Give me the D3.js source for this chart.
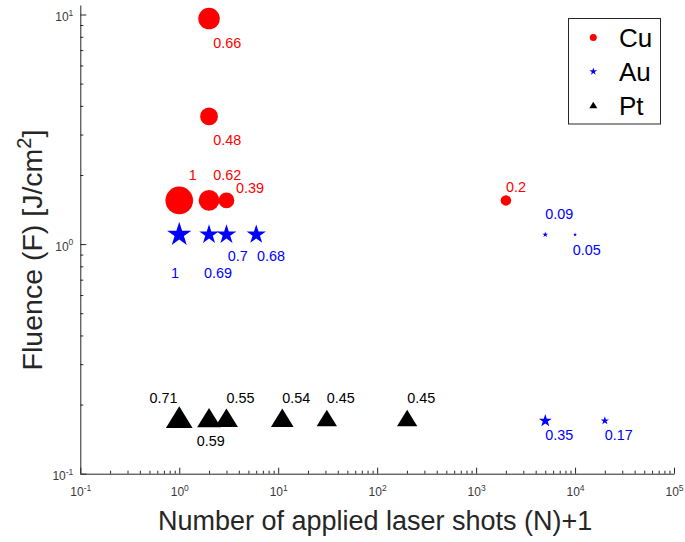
<!DOCTYPE html>
<html>
<head>
<meta charset="utf-8">
<script src="https://cdn.jsdelivr.net/npm/d3@7"></script>
<style>
    body { margin: 0; background: #fff; }
    svg { display: block; }
    text { font-family: "Liberation Sans", Arial, Helvetica, sans-serif; }
</style>
</head>
<body>
<div id="chart"></div>
<script>
// Cu (red circles) - shots (N+1), fluence, ratio shown next to the marker
const cuShots = [2, 2, 1, 2, 3, 2001];
const cuFluence = [9.6, 3.6, 1.55, 1.55, 1.55, 1.55];
const cuRatio = [0.66, 0.48, 1, 0.62, 0.39, 0.2];
const cuLabelX = [2.2, 2.2, 1.25, 2.2, 3.75, 2001];
const cuLabelY = [7.5, 2.83, 2.0, 2.0, 1.75, 1.78];

// Au (blue stars)
const auShots = [1, 2, 3, 6, 5001, 10001, 5001, 20001];
const auFluence = [1.1, 1.1, 1.1, 1.1, 1.1, 1.1, 0.17, 0.17];
const auRatio = [1, 0.69, 0.7, 0.68, 0.09, 0.05, 0.35, 0.17];
const auLabelX = [0.825, 1.78, 3.1, 6.1, 5001, 9500, 5001, 20001];
const auLabelY = [0.75, 0.75, 0.89, 0.89, 1.35, 0.94, 0.147, 0.147];

// Pt (black triangles)
const ptShots = [1, 2, 3, 11, 31, 201];
const ptFluence = [0.17, 0.17, 0.17, 0.17, 0.17, 0.17];
const ptRatio = [0.71, 0.59, 0.55, 0.54, 0.45, 0.45];
const ptLabelX = [0.5, 1.5, 3, 11, 31, 201];
const ptLabelY = [0.213, 0.139, 0.213, 0.213, 0.213, 0.213];

const legendNames = ["Cu", "Au", "Pt"];
const xExponents = [-1, 0, 1, 2, 3, 4, 5];
const yExponents = [-1, 0, 1];

const width = 685, height = 542;
const plotLeft = 80.3, plotRight = 674, plotTop = 5, plotBottom = 473.7;
const axisColor = "#262626";

const svg = d3.select("#chart").append("svg")
    .attr("width", width)
    .attr("height", height)
    .attr("viewBox", `0 0 ${width} ${height}`);

const x = d3.scaleLog().domain([0.1, 1e5]).range([plotLeft, plotRight]);
const y = d3.scaleLog().domain([0.1, 11]).range([plotBottom, plotTop]);

// marker size follows the ratio value
const circleR = d3.scalePow().exponent(0.6).domain([0, 1]).range([0, 13.8]);
const starR = d3.scalePow().exponent(0.6).domain([0, 1]).range([0, 12.8]);
const triR = d3.scalePow().exponent(0.6).domain([0, 1]).range([0, 16.4]);

//axes
const majorX = xExponents.map(e => Math.pow(10, e));
const minorX = d3.range(-1, 5).flatMap(e => d3.range(2, 10).map(k => k * Math.pow(10, e)));
const majorY = yExponents.map(e => Math.pow(10, e));
const minorY = d3.range(-1, 1).flatMap(e => d3.range(2, 10).map(k => k * Math.pow(10, e)));

function superLabels(g) {
    g.selectAll(".tick text").each(function (d) {
        const t = d3.select(this);
        t.text(null);
        t.append("tspan").text("10");
        t.append("tspan").attr("dy", -5.5).attr("font-size", 8.5).text(Math.round(Math.log10(d)));
    });
}

const gx = svg.append("g")
    .attr("transform", `translate(0,${plotBottom})`)
    .attr("color", axisColor)
    .call(d3.axisBottom(x).tickValues(majorX).tickSizeInner(-6).tickSizeOuter(0).tickPadding(14));
gx.selectAll(".tick text").attr("font-size", 12).attr("fill", "#3a3a3a");
gx.attr("font-family", null).call(superLabels);

svg.append("g")
    .attr("transform", `translate(0,${plotBottom})`)
    .attr("color", axisColor)
    .call(d3.axisBottom(x).tickValues(minorX).tickSizeInner(-3).tickSizeOuter(0).tickFormat(""))
    .call(g => g.select(".domain").remove());

const gy = svg.append("g")
    .attr("transform", `translate(${plotLeft},0)`)
    .attr("color", axisColor)
    .call(d3.axisLeft(y).tickValues(majorY).tickSizeInner(-6).tickSizeOuter(0).tickPadding(7));
gy.selectAll(".tick text").attr("font-size", 12).attr("fill", "#3a3a3a").attr("dy", "0.5em");
gy.attr("font-family", null).call(superLabels);

svg.append("g")
    .attr("transform", `translate(${plotLeft},0)`)
    .attr("color", axisColor)
    .call(d3.axisLeft(y).tickValues(minorY).tickSizeInner(-3).tickSizeOuter(0).tickFormat(""))
    .call(g => g.select(".domain").remove());

//axis titles
svg.append("text")
    .attr("x", (plotLeft + plotRight) / 2 - 2)
    .attr("y", 529.5)
    .attr("text-anchor", "middle")
    .attr("font-size", 27)
    .attr("fill", axisColor)
    .text("Number of applied laser shots (N)+1");

const yTitle = svg.append("text")
    .attr("transform", "translate(42,250) rotate(-90)")
    .attr("text-anchor", "middle")
    .attr("font-size", 28.5)
    .attr("fill", axisColor);
yTitle.append("tspan").text("Fluence (F) [J/cm");
yTitle.append("tspan").attr("dy", -11).attr("font-size", 20).text("2");
yTitle.append("tspan").attr("dy", 11).text("]");

//marker shapes
const starPath = R => d3.lineRadial()
    .curve(d3.curveLinearClosed)
    .angle((d, i) => i * Math.PI / 5)
    .radius((d, i) => i % 2 === 0 ? R : R * 0.382)(d3.range(10));

const triPath = R => {
    const h = R * 1.62;
    return `M0,${-2 * h / 3}L${R},${h / 3}L${-R},${h / 3}Z`;
};

//Cu
const cu = svg.append("g");
cu.selectAll("circle")
    .data(cuShots)
    .join("circle")
    .attr("cx", d => x(d))
    .attr("cy", (d, i) => y(cuFluence[i]))
    .attr("r", (d, i) => circleR(cuRatio[i]))
    .attr("fill", "#ff0000");

//Au
const au = svg.append("g");
au.selectAll("path")
    .data(auShots)
    .join("path")
    .attr("transform", (d, i) => `translate(${x(d)},${y(auFluence[i])})`)
    .attr("d", (d, i) => starPath(starR(auRatio[i])))
    .attr("fill", "#0000ff");

//Pt
const pt = svg.append("g");
pt.selectAll("path")
    .data(ptShots)
    .join("path")
    .attr("transform", (d, i) => `translate(${x(d)},${y(ptFluence[i])})`)
    .attr("d", (d, i) => triPath(triR(ptRatio[i])))
    .attr("fill", "#000");

//value labels
function drawLabels(g, ratios, lx, ly, color) {
    g.selectAll("text")
        .data(ratios)
        .join("text")
        .attr("x", (d, i) => x(lx[i]))
        .attr("y", (d, i) => y(ly[i]))
        .attr("dy", "0.35em")
        .attr("font-size", 14.4)
        .attr("fill", color)
        .text(d => String(d));
}
drawLabels(svg.append("g"), cuRatio, cuLabelX, cuLabelY, "#ff0000");
drawLabels(svg.append("g"), auRatio, auLabelX, auLabelY, "#0000ff");
drawLabels(svg.append("g"), ptRatio, ptLabelX, ptLabelY, "#000");

//legend
const legend = svg.append("g");
legend.append("rect")
    .attr("x", 568.5)
    .attr("y", 18.5)
    .attr("width", 92)
    .attr("height", 105.5)
    .attr("fill", "#fff")
    .attr("stroke", axisColor)
    .attr("stroke-width", 1);

const rowY = [37.5, 71.5, 106];
const legendColors = ["#ff0000", "#0000ff", "#000"];
legend.append("circle").attr("cx", 593.3).attr("cy", rowY[0]).attr("r", 3.5).attr("fill", legendColors[0]);
legend.append("path").attr("transform", `translate(593.3,${rowY[1]})`).attr("d", starPath(4)).attr("fill", legendColors[1]);
legend.append("path").attr("transform", `translate(593.3,${rowY[2]})`).attr("d", triPath(4)).attr("fill", legendColors[2]);
legend.selectAll("text")
    .data(legendNames)
    .join("text")
    .attr("x", 619)
    .attr("y", (d, i) => rowY[i])
    .attr("dy", "0.36em")
    .attr("font-size", 26)
    .attr("fill", "#000")
    .text(d => d);
</script>
</body>
</html>
